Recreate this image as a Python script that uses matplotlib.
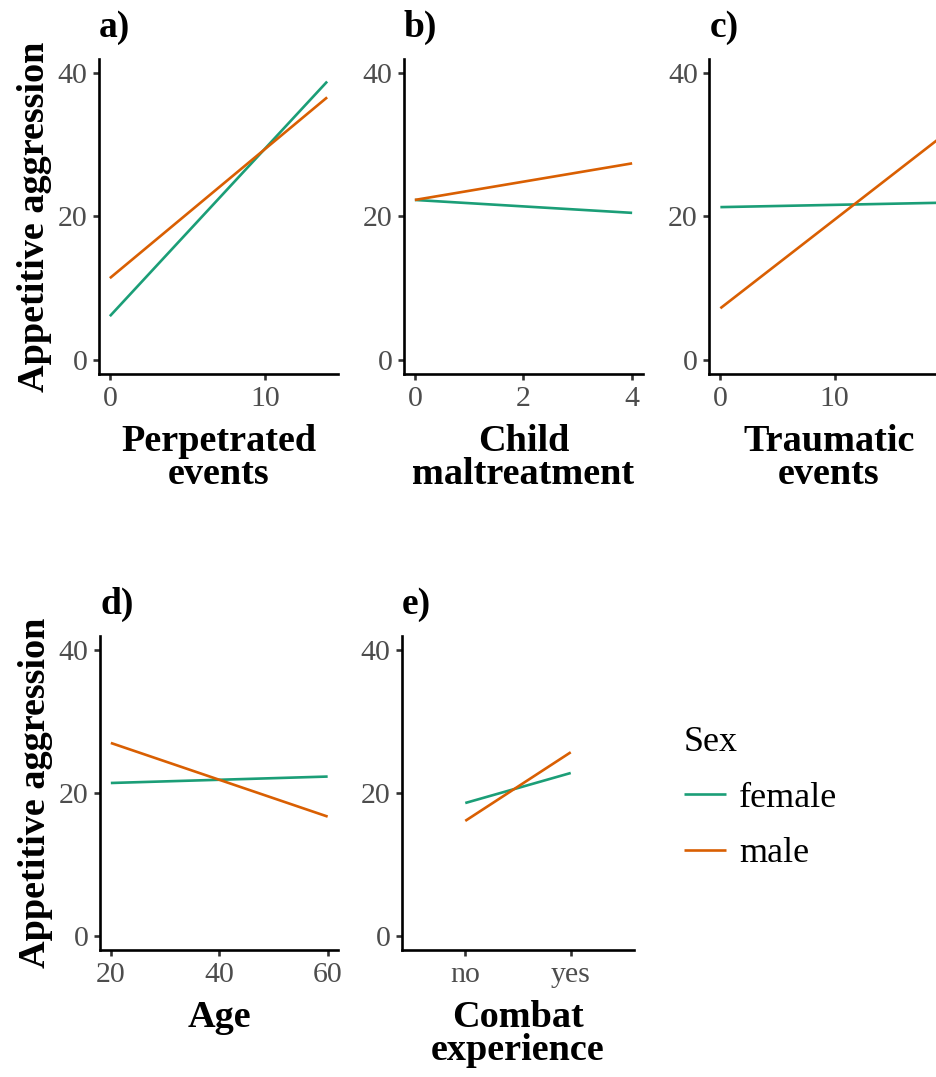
import matplotlib.pyplot as plt

plt.rcParams['font.family'] = ['Liberation Serif', 'DejaVu Serif']

W, H = 937, 1077
GREEN = '#1B9E77'
ORANGE = '#D95F02'

# Predicted appetitive aggression by sex, per predictor
sexes = ['female', 'male']

perp_x = [0, 14]
perp_female = [6.1, 38.8]
perp_male = [11.4, 36.6]

child_x = [0, 4]
child_female = [22.3, 20.5]
child_male = [22.3, 27.4]

trauma_x = [0, 19]
trauma_female = [21.3, 21.9]
trauma_male = [7.2, 30.7]

age_x = [20, 60]
age_female = [21.4, 22.3]
age_male = [27.0, 16.7]

combat_levels = ['no', 'yes']
combat_female = [18.6, 22.8]
combat_male = [16.1, 25.7]

y_ticks = [0, 20, 40]

panels = [
    # tag, x label, x values, female, male, x ticks, x limits
    ('a)', 'Perpetrated\nevents', perp_x, perp_female, perp_male, [0, 10], (-0.7, 14.7)),
    ('b)', 'Child\nmaltreatment', child_x, child_female, child_male, [0, 2, 4], (-0.2, 4.2)),
    ('c)', 'Traumatic\nevents', trauma_x, trauma_female, trauma_male, [0, 10], (-0.95, 19.95)),
    ('d)', 'Age', age_x, age_female, age_male, [20, 40, 60], (18, 62)),
    ('e)', 'Combat\nexperience', combat_levels, combat_female, combat_male, None, (-0.6, 1.6)),
]

# axes boxes in pixels: left, top, right, bottom
boxes = [
    (99, 58.6, 338, 374.3),
    (404, 58.6, 643, 374.3),
    (709.5, 58.6, 948.5, 374.3),
    (100, 635.7, 338.5, 950.3),
    (402, 635.7, 634, 950.3),
]

fig = plt.figure(figsize=(W / 100, H / 100), dpi=100)

handles = None
for i, (tag, xlab, xs, fem, mal, xt, xl) in enumerate(panels):
    l, t, r, b = boxes[i]
    ax = fig.add_axes([l / W, 1 - b / H, (r - l) / W, (b - t) / H])
    hf, = ax.plot(xs, fem, color=GREEN, lw=1.9, solid_capstyle='butt')
    hm, = ax.plot(xs, mal, color=ORANGE, lw=1.9, solid_capstyle='butt')
    handles = [hf, hm]

    ax.set_ylim(-2, 42)
    ax.set_yticks(y_ticks)
    ax.set_xlim(*xl)
    if xt is not None:
        ax.set_xticks(xt)

    for side in ['top', 'right']:
        ax.spines[side].set_visible(False)
    for side in ['left', 'bottom']:
        ax.spines[side].set_linewidth(1.9)
        ax.spines[side].set_color('black')
    ax.tick_params(direction='out', length=4.3, width=1.9, color='#333333',
                   labelcolor='#4D4D4D', labelsize=21.5, pad=4)

    ax.set_xlabel(xlab, fontsize=27.5, fontweight='bold', linespacing=0.92,
                  labelpad=9)
    if i in (0, 3):
        ax.set_ylabel('Appetitive aggression', fontsize=27.5, fontweight='bold',
                      labelpad=4)
    ax.set_title(tag, loc='left', fontsize=27, fontweight='bold', pad=15.5)

leg = fig.legend(handles, sexes, title='Sex', loc='upper left',
                 bbox_to_anchor=(684 / W, 1 - 726 / H), frameon=False,
                 fontsize=26, title_fontsize=26, handlelength=1.17,
                 handletextpad=0.35, labelspacing=0.62, borderpad=0,
                 borderaxespad=0, alignment='left')
for line in leg.get_lines():
    line.set_linewidth(1.9)

fig.savefig('out.png', dpi=100)
